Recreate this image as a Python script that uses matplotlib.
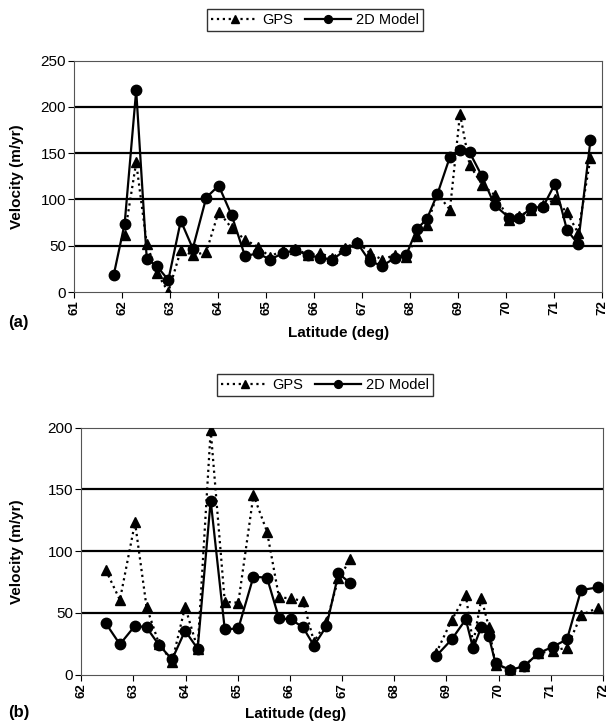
import numpy as np
import matplotlib
matplotlib.use("Agg")
import matplotlib.pyplot as plt

plt.rcParams['font.family'] = ['Liberation Sans', 'DejaVu Sans']

# ---------------- panel (a) ----------------
lat_a = [61.82, 62.05, 62.29, 62.51, 62.72, 62.96, 63.22, 63.47, 63.75, 64.01,
         64.28, 64.56, 64.82, 65.08, 65.35, 65.61, 65.87, 66.12, 66.38, 66.64,
         66.90, 67.16, 67.42, 67.68, 67.92, 68.14, 68.35, 68.57, 68.83, 69.04,
         69.24, 69.50, 69.76, 70.07, 70.28, 70.52, 70.77, 71.02, 71.27, 71.50,
         71.76]
model_a = [18, 74, 218, 36, 28, 13, 77, 47, 102, 115,
           83, 38.5, 42, 35, 42, 45, 40, 37, 35, 45,
           53, 33, 28.5, 36.5, 40, 68, 79, 106, 146, 153,
           151, 125, 94, 80, 80, 91, 92, 117, 67, 52,
           164]
gps_lat_a = lat_a[1:]
gps_a = [62, 140, 52, 21, 0, 45, 40, 43, 87, 69,
         56.5, 49, 38, 45.7, 47, 40, 42, 37, 47.5, 54.5,
         42, 35, 40, 38, 60, 72.7, 106, 89, 192.6, 137.5,
         116, 105, 78, 82, 89, 94, 100, 86, 64, 145]

# ---------------- panel (b) ----------------
nan = np.nan
lat_b = [62.47, 62.74, 63.03, 63.25, 63.49, 63.74, 63.99, 64.23, 64.48, 64.75,
         65.01, 65.30, 65.56, 65.79, 66.02, 66.25, 66.46, 66.70, 66.93, 67.16,
         68.00,
         68.80, 69.10, 69.37, 69.51, 69.67, 69.81, 69.94, 70.22, 70.49, 70.76,
         71.04, 71.31, 71.58, 71.91]
model_b = [41.6, 24.6, 39.7, 38.3, 24, 12.4, 35.6, 21, 141, 36.7,
           37.5, 79.4, 78.5, 45.6, 44.8, 38.3, 23.5, 39.4, 82, 74,
           nan,
           15, 28.6, 44.8, 21.3, 38.9, 31.3, 9.2, 3.8, 7, 17.3,
           22.7, 28.6, 68.6, 70.7]
gps_b = [84.7, 60.5, 123.3, 55, 25, 10.5, 55, 21, 198, 59,
         58.3, 145.5, 115.8, 62.6, 61.8, 59.6, 26.7, 43, 78, 93.4,
         nan,
         17.3, 44.3, 64.5, 25, 61.8, 38.9, 8, 4.3, 7, 17.3,
         19.4, 21.9, 48.3, 54.3]

fig = plt.figure(figsize=(6.11, 7.23), dpi=100)
W, H = 611, 723


def make_axes(left, right, top, bottom):
    return fig.add_axes([left / W, 1 - bottom / H, (right - left) / W, (bottom - top) / H])


def style(ax, xlim, ylim, yticks, xticks):
    ax.set_xlim(*xlim)
    ax.set_ylim(*ylim)
    ax.set_yticks(yticks)
    ax.set_xticks(xticks)
    ax.set_xticklabels([str(t) for t in xticks], rotation=90, fontweight='bold', fontsize=9.5)
    ax.set_yticklabels([str(t) for t in yticks], fontsize=11)
    for t in yticks[1:-1]:
        ax.axhline(t, color='black', lw=1.6, zorder=1)
    for s in ax.spines.values():
        s.set_color('#555555')
        s.set_linewidth(0.8)
    ax.tick_params(direction='out', length=4, width=0.8, colors='black', pad=2)
    ax.set_ylabel('Velocity (m/yr)', fontweight='bold', fontsize=11)
    ax.set_xlabel('Latitude (deg)', fontweight='bold', fontsize=11, labelpad=4)


# panel (a)
ax1 = make_axes(74.3, 602, 60.7, 292)
g1, = ax1.plot(gps_lat_a, gps_a, ls=':', color='black', lw=1.6, marker='^', ms=7.5, zorder=3)
m1, = ax1.plot(lat_a, model_a, ls='-', color='black', lw=1.6, marker='o', ms=7.5, zorder=4)
style(ax1, (61, 72), (0, 250), [0, 50, 100, 150, 200, 250], list(range(61, 73)))
ax1.yaxis.set_label_coords(-0.095, 0.5)
ax1.xaxis.set_label_coords(0.5, -0.145)
fig.text(8 / W, 1 - 322 / H, '(a)', fontweight='bold', fontsize=12, va='center')
fig.legend([g1, m1], ['GPS', '2D Model'], loc='center', bbox_to_anchor=(315 / W, 1 - 20 / H),
           ncol=2, frameon=True, fancybox=False, edgecolor='black', fontsize=10.5,
           handlelength=3.2, columnspacing=0.8, handletextpad=0.3, borderpad=0.3,
           markerscale=0.75)

# panel (b)
ax2 = make_axes(81.3, 603, 427.7, 674.7)
g2, = ax2.plot(lat_b, gps_b, ls=':', color='black', lw=1.6, marker='^', ms=7.5, zorder=3)
m2, = ax2.plot(lat_b, model_b, ls='-', color='black', lw=1.6, marker='o', ms=7.5, zorder=4)
style(ax2, (62, 72), (0, 200), [0, 50, 100, 150, 200], list(range(62, 73)))
ax2.yaxis.set_label_coords(-0.11, 0.5)
ax2.xaxis.set_label_coords(0.41, -0.13)
fig.text(8 / W, 1 - 712 / H, '(b)', fontweight='bold', fontsize=12, va='center')
fig.legend([g2, m2], ['GPS', '2D Model'], loc='center', bbox_to_anchor=(325 / W, 1 - 385 / H),
           ncol=2, frameon=True, fancybox=False, edgecolor='black', fontsize=10.5,
           handlelength=3.2, columnspacing=0.8, handletextpad=0.3, borderpad=0.3,
           markerscale=0.75)

fig.savefig('out.png', dpi=100)
